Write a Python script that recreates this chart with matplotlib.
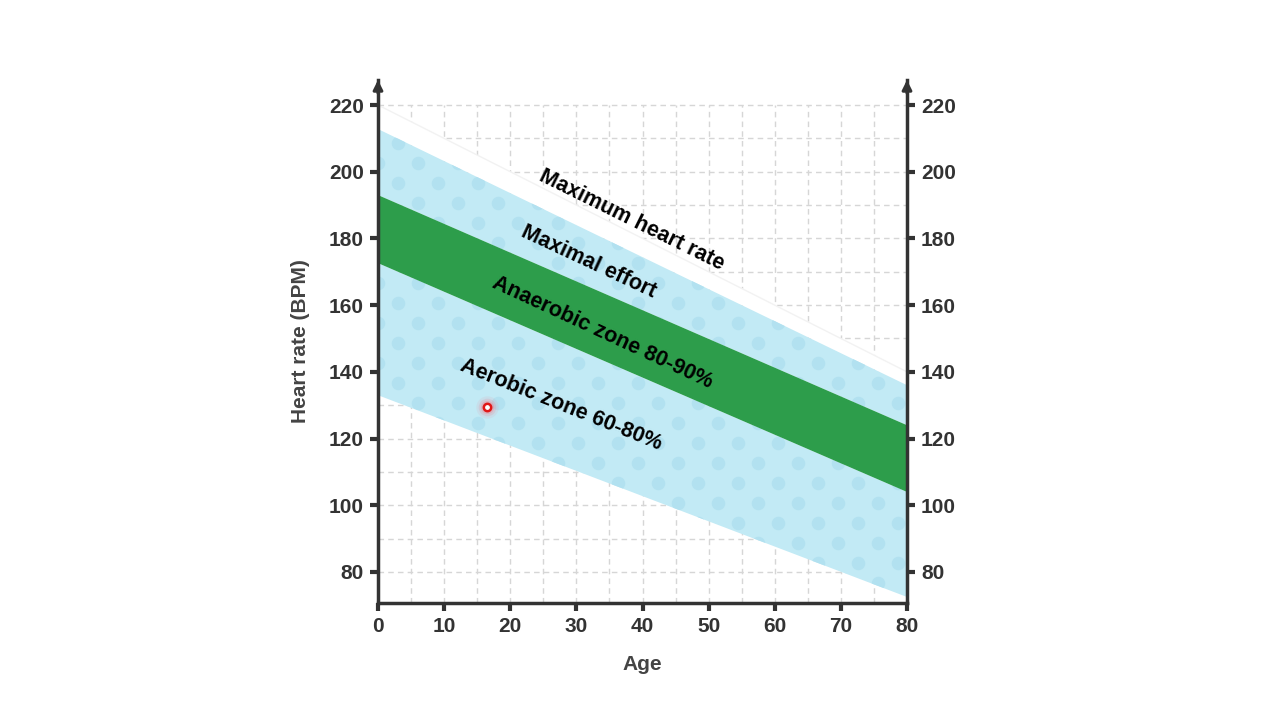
import numpy as np
import matplotlib
matplotlib.use("Agg")
import matplotlib.pyplot as plt
from matplotlib.patches import Polygon

# ---- data ----
ages = [0, 80]
aerobic_low = [133, 72.5]
anaerobic_low = [172.6, 104]
anaerobic_high = [193, 124]
maximal_high = [212.8, 136]
max_hr_line = [220, 140]
marker_age = [16.5]
marker_hr = [129.5]
xticks = [0, 10, 20, 30, 40, 50, 60, 70, 80]
yticks = [80, 100, 120, 140, 160, 180, 200, 220]

labels = [
    ("Maximum heart rate", 38.4, 185.5, -26.3),
    ("Maximal effort", 31.8, 173.0, -25.0),
    ("Anaerobic zone 80-90%", 34.0, 151.7, -24.9),
    ("Aerobic zone 60-80%", 27.7, 130.0, -21.8),
]

LIGHT = "#c2eaf5"
DOT = "#b2e1f0"
GREEN = "#2d9d4b"
DARK = "#333333"

plt.rcParams['font.family'] = ['Liberation Sans', 'DejaVu Sans']

fig = plt.figure(figsize=(12.8, 7.2), dpi=100)
ax = fig.add_axes([378/1280, 117/720, (907-378)/1280, (603-80)/720])
ax.set_xlim(0, 80)
ax.set_ylim(70.7, 227.5)

# grid
for x in np.arange(5, 80, 5):
    ax.axvline(x, ymax=(220-70.7)/(227.5-70.7), color="#d6d6d6", lw=1, ls=(0, (4, 3)), zorder=0)
for y in np.arange(80, 221, 10):
    ax.axhline(y, color="#d6d6d6", lw=1, ls=(0, (4, 3)), zorder=0)

ax_arr = np.array(ages, dtype=float)

def band(lo, hi, color, z):
    verts = [(ax_arr[0], lo[0]), (ax_arr[1], lo[1]), (ax_arr[1], hi[1]), (ax_arr[0], hi[0])]
    p = Polygon(verts, closed=True, facecolor=color, edgecolor='none', zorder=z)
    ax.add_patch(p)
    return p

# white band for max heart rate
band(maximal_high, max_hr_line, "white", 1)
ax.plot(ages, max_hr_line, color="#f2f2f2", lw=1, zorder=1.1)

p_low = band(aerobic_low, anaerobic_low, LIGHT, 2)
p_high = band(anaerobic_high, maximal_high, LIGHT, 2)
band(anaerobic_low, anaerobic_high, GREEN, 3)

# dot pattern (decorative) in axes fraction coordinates
W, H = 529, 523
px = []
py = []
rows = np.arange(0, H + 20, 20)
for i, r in enumerate(rows):
    off = 20 if i % 2 else 0
    for c in np.arange(off - 40, W + 40, 40):
        px.append(c / W)
        py.append(r / H)
for patch in (p_low, p_high):
    sc = ax.scatter(px, py, s=95, color=DOT, transform=ax.transAxes, zorder=2.5, linewidths=0)
    sc.set_clip_path(patch)

# labels
for txt, x, y, rot in labels:
    ax.text(x, y, txt, rotation=rot, rotation_mode='anchor', ha='center', va='center',
            fontsize=15.5, fontweight='bold', color='black', zorder=5)

# marker with glow
for s, a in [(260, 0.08), (160, 0.14), (90, 0.22)]:
    ax.scatter(marker_age, marker_hr, s=s, color="#ff5a6a", alpha=a, linewidths=0, zorder=6)
ax.scatter(marker_age, marker_hr, s=28, facecolor="white", edgecolor="#e01818", linewidths=1.8, zorder=7)

# spines
ax.spines['top'].set_visible(False)
for side in ['left', 'right', 'bottom']:
    ax.spines[side].set_color(DARK)
    ax.spines[side].set_linewidth(2.5)
    ax.spines[side].set_zorder(8)

for xa in (0, 1):
    ax.annotate('', xy=(xa, 1.0), xytext=(xa, 0.975), xycoords='axes fraction',
                arrowprops=dict(arrowstyle='-|>', color=DARK, lw=2.2, mutation_scale=14,
                                shrinkA=0, shrinkB=0), zorder=9)

ax.set_xticks(xticks)
ax.set_yticks(yticks)
ax.tick_params(axis='both', which='major', direction='out', length=6, width=3, color=DARK,
               labelsize=15, labelcolor=DARK, pad=4)
ax.tick_params(axis='y', right=True, labelright=True, left=True, labelleft=True)
for t in ax.xaxis.get_major_ticks():
    t.label1.set_fontweight('bold')
for t in ax.yaxis.get_major_ticks():
    t.label1.set_fontweight('bold')
    t.label2.set_fontweight('bold')

ax.set_xlabel("Age", fontsize=15, fontweight='bold', color='#444444', labelpad=14)
ax.set_ylabel("Heart rate (BPM)", fontsize=15, fontweight='bold', color='#444444', labelpad=14)

fig.savefig("out.png", dpi=100)
